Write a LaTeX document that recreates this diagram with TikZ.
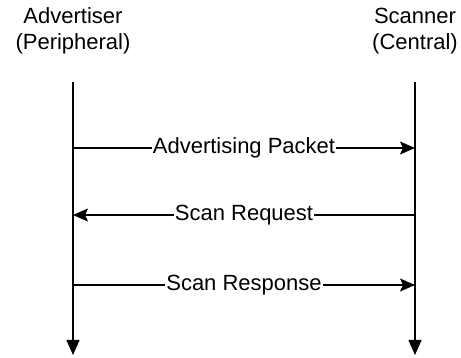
\documentclass[tikz,border=0pt]{standalone}
\usepackage{fontspec}
\setmainfont{Liberation Sans}
\usetikzlibrary{arrows.meta}
\tikzset{
 msg/.style={-{Stealth[length=15pt,width=13pt,inset=3pt]},line width=1.3pt},
 life/.style={-{Triangle[length=15pt,width=13pt]},line width=1.3pt},
 lbl/.style={fill=white,inner xsep=1pt,inner ysep=0pt},
 head/.style={align=center}
}
\begin{document}
\begin{tikzpicture}[x=1pt,y=1pt,font=\fontsize{22}{26}\selectfont]
 \useasboundingbox (0,0) rectangle (461,358);
 % lifeline heads
 \node[head] (adv) at (73,327) {Advertiser\\(Peripheral)};
 \node[head] (scan) at (415,327) {Scanner\\(Central)};
 % lifelines
 \coordinate (advtop) at (73,276);
 \coordinate (advbot) at (73,3);
 \coordinate (scantop) at (415,276);
 \coordinate (scanbot) at (415,3);
 \draw[life] (advtop) -- (advbot);
 \draw[life] (scantop) -- (scanbot);
 %
 \coordinate (a1) at (73,210);
 \coordinate (s1) at (415,210);
 \coordinate (a2) at (73,143);
 \coordinate (s2) at (415,143);
 \coordinate (a3) at (73,73);
 \coordinate (s3) at (415,73);
 %
 \draw[msg] (a1) -- node[lbl]{Advertising Packet} (s1);
 \draw[msg] (s2) -- node[lbl]{Scan Request} (a2);
 \draw[msg] (a3) -- node[lbl]{Scan Response} (s3);
\end{tikzpicture}
\end{document}
